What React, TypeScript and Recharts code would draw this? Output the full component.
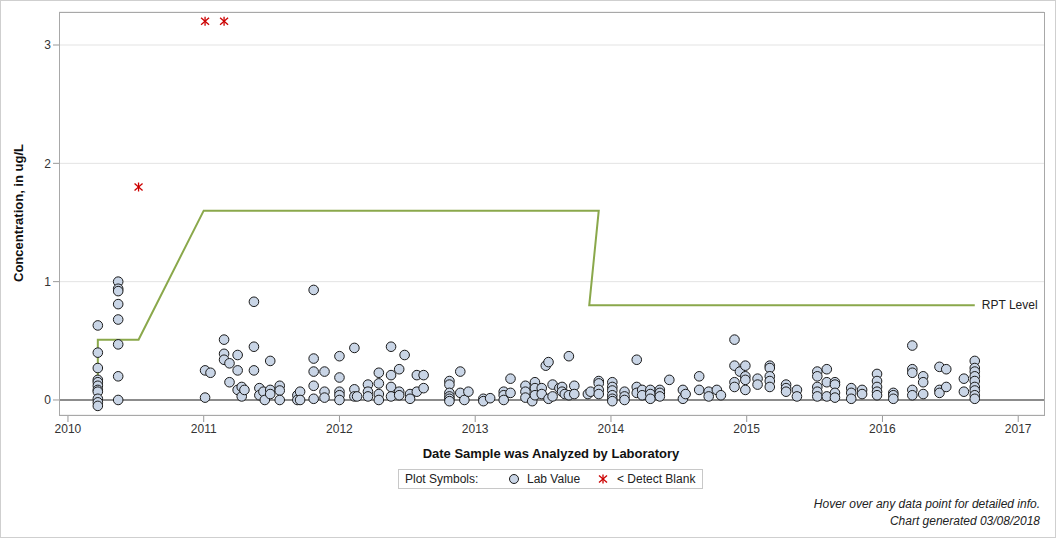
import React from "react";
import { ComposedChart, XAxis, YAxis, Scatter, CartesianGrid, ReferenceLine } from "recharts";

// ---- Data ----
const labDates: number[] = [
  2010.22, 2010.37, 2011.01, 2011.05, 2011.15, 2011.19, 2011.25, 2011.28, 2011.30, 2011.37,
  2011.41, 2011.44, 2011.45, 2011.49, 2011.56, 2011.69, 2011.71, 2011.81, 2011.89, 2012.0,
  2012.11, 2012.13, 2012.21, 2012.29, 2012.38, 2012.44, 2012.48, 2012.52, 2012.57, 2012.62,
  2012.81, 2012.89, 2012.92, 2012.95, 2013.06, 2013.11, 2013.21, 2013.26, 2013.37, 2013.42,
  2013.44, 2013.49, 2013.52, 2013.54, 2013.57, 2013.62, 2013.64, 2013.66, 2013.69, 2013.73,
  2013.83, 2013.85, 2013.91, 2014.01, 2014.10, 2014.19, 2014.23, 2014.29, 2014.36, 2014.43,
  2014.53, 2014.55, 2014.65, 2014.72, 2014.78, 2014.81, 2014.91, 2014.95, 2014.99, 2015.08,
  2015.17, 2015.29, 2015.37, 2015.52, 2015.59, 2015.65, 2015.77, 2015.85, 2015.96, 2016.08,
  2016.22, 2016.30, 2016.42, 2016.47, 2016.60, 2016.68,
];
const labValues: number[][] = [
  [0.63, 0.40, 0.27, 0.17, 0.15, 0.12, 0.085, 0.07, 0.01, -0.02, -0.05],
  [1.0, 0.94, 0.92, 0.81, 0.68, 0.47, 0.2, 0.0],
  [0.25, 0.02], [0.23], [0.51, 0.39, 0.34], [0.31, 0.15], [0.38, 0.25, 0.085], [0.11, 0.03], [0.085],
  [0.83, 0.45, 0.25],
  [0.1, 0.04], [0.07], [0.0], [0.33, 0.085, 0.05], [0.12, 0.08, 0.0], [0.04, 0.0], [0.07, 0.0],
  [0.93, 0.35, 0.24, 0.12, 0.01], [0.24, 0.07, 0.02], [0.37, 0.19, 0.07, 0.04, 0.0],
  [0.44, 0.09, 0.03], [0.03], [0.13, 0.07, 0.03], [0.23, 0.14, 0.05, 0.0], [0.45, 0.21, 0.11, 0.03],
  [0.26, 0.07, 0.04], [0.38], [0.05, 0.01], [0.21, 0.07], [0.21, 0.1],
  [0.16, 0.13, 0.06, 0.03, 0.01, -0.01], [0.24, 0.06], [0.0], [0.07], [0.01, -0.01], [0.015],
  [0.07, 0.04, 0.0], [0.18, 0.06], [0.12, 0.07, 0.02], [-0.01],
  [0.15, 0.1, 0.04], [0.1, 0.05], [0.29], [0.32, 0.01], [0.13, 0.03], [0.1], [0.11, 0.07], [0.05],
  [0.37, 0.04], [0.12, 0.05],
  [0.05], [0.07], [0.16, 0.14, 0.085, 0.05], [0.15, 0.11, 0.08, 0.04, 0.01, -0.01], [0.07, 0.03, 0.0],
  [0.34, 0.11, 0.06], [0.085, 0.04], [0.085, 0.05, 0.01], [0.085, 0.06, 0.03], [0.17],
  [0.085, 0.01], [0.05], [0.2, 0.085], [0.07, 0.03], [0.085], [0.04], [0.51, 0.29, 0.15, 0.11],
  [0.24], [0.29, 0.2, 0.17, 0.085], [0.18, 0.13],
  [0.29, 0.27, 0.2, 0.16, 0.11], [0.13, 0.1, 0.07], [0.085, 0.03], [0.24, 0.2, 0.11, 0.07, 0.03],
  [0.26, 0.15, 0.03], [0.15, 0.13, 0.06, 0.02], [0.1, 0.06, 0.01], [0.085, 0.05],
  [0.22, 0.16, 0.11, 0.07, 0.04], [0.06, 0.04, 0.01],
  [0.46, 0.26, 0.23, 0.085, 0.04], [0.2, 0.15, 0.05], [0.28, 0.085, 0.06], [0.26, 0.11], [0.18, 0.07],
  [0.33, 0.27, 0.24, 0.2, 0.16, 0.11, 0.08, 0.04, 0.01],
];
const blankDates: number[] = [2010.52, 2011.01, 2011.15];
const blankValues: number[] = [1.8, 3.2, 3.2];
const rptDates: number[] = [2010.22, 2010.22, 2010.52, 2011.0, 2013.91, 2013.84, 2016.68];
const rptValues: number[] = [0.2, 0.51, 0.51, 1.6, 1.6, 0.8, 0.8];
const rptLabel = "RPT Level";
const xTicks: number[] = [2010, 2011, 2012, 2013, 2014, 2015, 2016, 2017];
const yTicks: number[] = [0, 1, 2, 3];

const labData = labDates.flatMap((d, i) => labValues[i].map((v) => ({ x: d, y: v })));
const blankData = blankDates.map((d, i) => ({ x: d, y: blankValues[i] }));
const rptData = rptDates.map((d, i) => ({ x: d, y: rptValues[i], last: i === rptDates.length - 1 }));

const FONT = "'Liberation Sans', Arial, sans-serif";
const CIRCLE_FILL = "#c9d5e6";
const RED = "#cc0000";
const GREEN = "#8aa84b";

const Circle = (p: any) => (
  <circle cx={p.cx} cy={p.cy} r={4.8} fill={CIRCLE_FILL} stroke="#1a1a1a" strokeWidth={1} />
);
const Star = (p: any) => {
  const { cx, cy } = p;
  return (
    <g stroke={RED} strokeWidth={1.3}>
      <line x1={cx} y1={cy - 4.5} x2={cx} y2={cy + 4.5} />
      <line x1={cx - 4} y1={cy - 3.5} x2={cx + 4} y2={cy + 3.5} />
      <line x1={cx - 4} y1={cy + 3.5} x2={cx + 4} y2={cy - 3.5} />
    </g>
  );
};
const RptShape = (p: any) =>
  p.payload && p.payload.last ? (
    <text x={p.cx + 7} y={p.cy + 4} fontSize={12} fill="#222" fontFamily={FONT}>
      {rptLabel}
    </text>
  ) : (
    <g />
  );

export default function App() {
  return (
    <div style={{ position: "absolute", left: 0, top: 0, width: 1056, height: 538, background: "#fff", fontFamily: FONT }}>
      <ComposedChart width={1056} height={538} margin={{ top: 12, right: 12, bottom: 93, left: 0 }}>
        <CartesianGrid horizontal vertical={false} stroke="#e3e3e3" />
        <XAxis
          type="number"
          dataKey="x"
          domain={[2009.934, 2017.19]}
          ticks={xTicks}
          allowDataOverflow
          height={30}
          axisLine={false}
          tickLine={{ stroke: "#999" }}
          tickSize={7}
          tick={{ fontSize: 12, fill: "#333", fontFamily: FONT }}
        />
        <YAxis
          type="number"
          dataKey="y"
          domain={[-0.127, 3.279]}
          ticks={yTicks}
          allowDataOverflow
          width={59}
          axisLine={false}
          tickLine={{ stroke: "#999" }}
          tickSize={6}
          tick={{ fontSize: 12, fill: "#333", fontFamily: FONT }}
        />
        <ReferenceLine y={0} stroke="#8c8c8c" strokeWidth={2} />
        <Scatter
          data={rptData}
          isAnimationActive={false}
          line={{ stroke: GREEN, strokeWidth: 2 }}
          shape={RptShape}
        />
        <Scatter data={labData} isAnimationActive={false} shape={Circle} />
        <Scatter data={blankData} isAnimationActive={false} shape={Star} />
      </ComposedChart>

      {/* plot frame */}
      <div style={{ position: "absolute", left: 59, top: 12, width: 986, height: 404, border: "1px solid #a8a8a8", boxSizing: "border-box", pointerEvents: "none" }} />
      {/* outer border */}
      <div style={{ position: "absolute", left: 0, top: 0, width: 1056, height: 538, border: "1px solid #cfcfcf", boxSizing: "border-box", pointerEvents: "none" }} />

      {/* y axis title */}
      <div style={{ position: "absolute", left: 18, top: 213, transform: "translate(-50%, -50%) rotate(-90deg)", whiteSpace: "nowrap", fontWeight: "bold", fontSize: 13, color: "#111" }}>
        Concentration, in ug/L
      </div>
      {/* x axis title */}
      <div style={{ position: "absolute", left: 551, top: 453, transform: "translate(-50%, -50%)", whiteSpace: "nowrap", fontWeight: "bold", fontSize: 13, color: "#111" }}>
        Date Sample was Analyzed by Laboratory
      </div>
      {/* legend */}
      <div style={{ position: "absolute", left: 398, top: 469, width: 305, height: 20, border: "1px solid #c8c8c8", boxSizing: "border-box", fontSize: 12, color: "#222" }}>
        <span style={{ position: "absolute", left: 6, top: 2 }}>Plot Symbols:</span>
        <svg style={{ position: "absolute", left: 109, top: 3 }} width={12} height={12}>
          <circle cx={6} cy={6} r={4.5} fill={CIRCLE_FILL} stroke="#1a1a1a" strokeWidth={1} />
        </svg>
        <span style={{ position: "absolute", left: 128, top: 2 }}>Lab Value</span>
        <svg style={{ position: "absolute", left: 198, top: 3 }} width={12} height={12}>
          <g stroke={RED} strokeWidth={1.3}>
            <line x1={6} y1={1.5} x2={6} y2={10.5} />
            <line x1={2} y1={2.5} x2={10} y2={9.5} />
            <line x1={2} y1={9.5} x2={10} y2={2.5} />
          </g>
        </svg>
        <span style={{ position: "absolute", left: 218, top: 2 }}>&lt; Detect Blank</span>
      </div>
      {/* footer */}
      <div style={{ position: "absolute", right: 16, top: 496, textAlign: "right", fontStyle: "italic", fontSize: 12, color: "#222", lineHeight: "17px" }}>
        Hover over any data point for detailed info.
        <br />
        Chart generated 03/08/2018
      </div>
    </div>
  );
}
